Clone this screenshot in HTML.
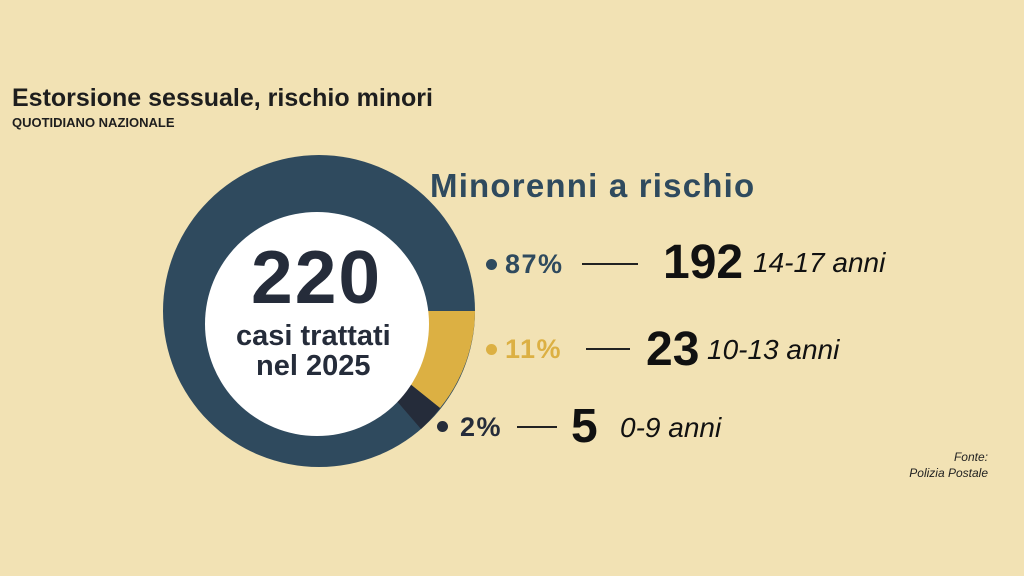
<!DOCTYPE html>
<html><head><meta charset="utf-8"><style>
body{margin:0;width:1024px;height:576px;background:#f2e2b4;position:relative;overflow:hidden;font-family:"Liberation Sans",sans-serif;}
.t{position:absolute;white-space:nowrap;line-height:1;}
.b{font-weight:bold;}
.i{font-style:italic;}
.dot{position:absolute;width:11px;height:11px;border-radius:50%;}
.ln{position:absolute;height:2px;background:#222;}
.p{font-size:27px;letter-spacing:1.5px;}
</style></head><body>
<svg width="1024" height="576" style="position:absolute;left:0;top:0">
<circle cx="319" cy="311" r="156" fill="#2f4a5e"/>
<path d="M319 311 L475 311 A156 156 0 0 1 440 408 Z" fill="#dcb043"/>
<path d="M319 311 L440 408 A156 156 0 0 1 421 429 Z" fill="#252c3a"/>
<circle cx="317" cy="324" r="112" fill="#ffffff"/>
</svg>
<div class="t b" style="left:12px;top:86px;font-size:25px;color:#1e1e1e;">Estorsione sessuale, rischio minori</div>
<div class="t b" style="left:12px;top:116px;font-size:13px;color:#1e1e1e;">QUOTIDIANO NAZIONALE</div>
<div class="t b" style="left:430px;top:169px;font-size:33px;color:#2f4a5e;letter-spacing:1.2px;">Minorenni a rischio</div>

<div class="t b" style="left:251px;top:240px;font-size:75px;color:#252c3a;letter-spacing:2px;">220</div>
<div class="t b" style="left:236px;top:322px;font-size:29px;color:#252c3a;">casi trattati</div>
<div class="t b" style="left:256px;top:352px;font-size:29px;color:#252c3a;">nel 2025</div>

<div class="dot" style="left:486px;top:259px;background:#2f4a5e"></div>
<div class="t b p" style="left:505px;top:251px;color:#2f4a5e;">87%</div>
<div class="ln" style="left:582px;top:263px;width:56px"></div>
<div class="t b" style="left:663px;top:239px;font-size:48px;color:#111;">192</div>
<div class="t i" style="left:753px;top:249px;font-size:28px;color:#111;">14-17 anni</div>

<div class="dot" style="left:486px;top:344px;background:#dcb043"></div>
<div class="t b p" style="left:505px;top:336px;color:#dcb043;">11%</div>
<div class="ln" style="left:586px;top:348px;width:44px"></div>
<div class="t b" style="left:646px;top:326px;font-size:48px;color:#111;">23</div>
<div class="t i" style="left:707px;top:336px;font-size:28px;color:#111;">10-13 anni</div>

<div class="dot" style="left:437px;top:421px;background:#252c3a"></div>
<div class="t b p" style="left:460px;top:414px;color:#252c3a;">2%</div>
<div class="ln" style="left:517px;top:426px;width:40px"></div>
<div class="t b" style="left:571px;top:403px;font-size:48px;color:#111;">5</div>
<div class="t i" style="left:620px;top:414px;font-size:28px;color:#111;">0-9 anni</div>

<div class="t i" style="right:36px;top:451px;font-size:12px;color:#222;text-align:right;">Fonte:</div>
<div class="t i" style="right:36px;top:467px;font-size:12px;color:#222;">Polizia Postale</div>
</body></html>
